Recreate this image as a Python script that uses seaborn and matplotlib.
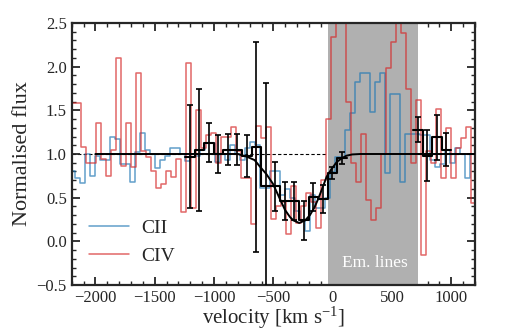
import numpy as np
import pandas as pd
import matplotlib
matplotlib.use('Agg')
import matplotlib.pyplot as plt
from matplotlib.ticker import MultipleLocator
import seaborn as sns

sns.set_style('ticks')
plt.rcParams['font.family'] = 'serif'
plt.rcParams['font.serif'] = ['Liberation Serif', 'DejaVu Serif']
plt.rcParams['mathtext.fontset'] = 'custom'
plt.rcParams['mathtext.rm'] = 'Liberation Serif'
plt.rcParams['mathtext.it'] = 'Liberation Serif:italic'

# pixel size of the spectrum (km/s) and first pixel edge of each ion
dv = 42.16
civ_start = -2209.0
cii_start = -2218.0

# normalised flux per pixel
civ_flux = [1.58, 1.58, 1.08, 0.90, 0.90, 1.36, 0.94, 0.75, 1.05, 2.10,
            0.86, 1.36, 0.85, 1.93, 1.04, 0.97, 0.80, 0.61, 0.66, 0.80,
            0.74, 0.94, 0.34, 2.04, 0.38, 1.50, 1.07, 1.22, 1.24, 0.90,
            1.20, 1.20, 1.31, 1.03, 0.72, 0.72, 0.20, 1.32, 1.18, 1.31,
            0.25, 0.40, 0.45, 0.08, 0.63, 0.21, 0.40, 0.55, 0.45, 0.15,
            0.70, 1.40, 2.34, 3.00, 3.00, 1.60, 0.90, 0.68, 1.23, 0.47,
            0.24, 0.38, 1.00, 1.98, 2.28, 3.00, 2.39, 1.75, 0.90, 1.62,
            -0.16, 1.04, 0.90, 1.51, 0.72, 1.30, 0.72, 1.07, 1.18, 1.31,
            0.44, 0.90]
cii_flux = [0.80, 0.72, 0.67, 1.00, 0.75, 0.98, 0.93, 0.93, 1.19, 1.17,
            0.89, 0.89, 0.68, 1.02, 1.24, 1.05, 1.00, 0.84, 0.93, 0.98,
            1.07, 1.07, 1.00, 0.92, 1.00, 0.98, 1.05, 1.13, 1.13, 0.91,
            1.00, 0.93, 1.10, 1.00, 0.93, 1.07, 1.14, 1.10, 0.61, 0.61,
            0.81, 0.81, 0.53, 0.60, 0.50, 0.35, 0.24, 0.12, 0.53, 0.38,
            0.38, 0.50, 0.79, 0.97, 0.97, 1.28, 1.47, 1.83, 1.93, 1.93,
            1.48, 1.82, 1.93, 0.78, 1.69, 1.69, 0.68, 1.23, 1.23, 1.23,
            1.22, 1.22, 0.93, 0.85, 0.88, 1.05, 0.90, 1.07, 1.00, 0.72,
            1.00, 1.10]

# combined, rebinned spectrum (emission-line region masked)
bin_v1 = [-1203, -1123, -1043, -963, -883, -803, -723, -643, -563,
          -483, -403, -322, -242, -162, -82, -2, 78]
bin_f1 = [0.97, 1.05, 1.13, 1.00, 1.05, 1.05, 0.98, 1.08, 0.63,
          0.63, 0.46, 0.46, 0.24, 0.51, 0.48, 0.78, 0.95]
bin_e1 = [0.59, 0.70, 0.22, 0.22, 0.18, 0.18, 0.24, 1.20, 1.18,
          0.28, 0.22, 0.22, 0.22, 0.16, 0.16, 0.07, 0.07]
bin_v2 = [719, 799, 879, 959]
bin_f2 = [1.28, 0.98, 1.19, 1.05]
bin_e2 = [0.14, 0.29, 0.26, 0.19]
half_bin = 40

# best-fit absorption profile, sampled from the figure
model_v = [-2000, -800, -725, -658, -613, -559, -504, -487, -450, -402,
           -361, -332, -282, -232, -192, -153, -121, -84, -51, -14,
           5, 35, 76, 115, 164, 233, 1200]
model_f = [1.0, 1.0, 0.97, 0.93, 0.855, 0.77, 0.66, 0.61, 0.50, 0.36,
           0.28, 0.24, 0.21, 0.24, 0.30, 0.39, 0.49, 0.62, 0.74, 0.82,
           0.855, 0.91, 0.95, 0.98, 0.995, 1.0, 1.0]

em_lo, em_hi = -40, 720

civ_v = civ_start + dv * (np.arange(len(civ_flux)) + 0.5)
cii_v = cii_start + dv * (np.arange(len(cii_flux)) + 0.5)

fig = plt.figure(figsize=(5.07, 3.32), dpi=100)
ax = fig.add_axes([0.1414, 0.1416, 0.7956, 0.7891])

ax.axhline(1.0, color='k', lw=0.8, ls=(0, (3, 2)), zorder=0.5)
ax.axvspan(em_lo, em_hi, color='#b0b0b0', lw=0, zorder=1)

sns.lineplot(x=cii_v, y=cii_flux, drawstyle='steps-mid', color='tab:blue',
             alpha=0.7, lw=1.1, estimator=None, sort=False, ax=ax,
             label='CII', zorder=2)
sns.lineplot(x=civ_v, y=civ_flux, drawstyle='steps-mid', color='tab:red',
             alpha=0.7, lw=1.1, estimator=None, sort=False, ax=ax,
             label='CIV', zorder=2)

for bv, bf, be in [(bin_v1, bin_f1, bin_e1), (bin_v2, bin_f2, bin_e2)]:
    edges = [v - half_bin for v in bv] + [bv[-1] + half_bin]
    sns.lineplot(x=edges, y=bf + [bf[-1]], drawstyle='steps-post',
                 color='k', lw=1.5, estimator=None, sort=False, ax=ax,
                 zorder=3)
    ax.errorbar(bv, bf, yerr=be, fmt='none', ecolor='k', elinewidth=1.2,
                capsize=2.2, capthick=1.2, zorder=3)

sns.lineplot(x=model_v, y=model_f, color='k', lw=1.4, estimator=None,
             sort=False, ax=ax, zorder=4)

ax.text((em_lo + em_hi) / 2 + 15, -0.25, 'Em. lines', color='white',
        fontsize=12.5, ha='center', va='center', zorder=5)

ax.set_xlim(-2200, 1200)
ax.set_ylim(-0.5, 2.5)
ax.xaxis.set_major_locator(MultipleLocator(500))
ax.xaxis.set_minor_locator(MultipleLocator(100))
ax.yaxis.set_major_locator(MultipleLocator(0.5))
ax.yaxis.set_minor_locator(MultipleLocator(0.1))
ax.tick_params(which='both', direction='in', top=True, right=True,
               labelsize=12)
ax.tick_params(which='major', length=6, width=1.3)
ax.tick_params(which='minor', length=3, width=1.0)
for s in ax.spines.values():
    s.set_linewidth(1.6)

ax.set_xlabel('velocity [km s$^{-1}$]', fontsize=15, labelpad=-1)
ax.set_ylabel('Normalised flux', fontsize=16, labelpad=3)

handles, labels = ax.get_legend_handles_labels()
ax.legend(handles[:2], labels[:2], loc='lower left', frameon=False,
          fontsize=14, handlelength=2.05, handletextpad=0.65,
          labelspacing=0.55, bbox_to_anchor=(0.0, 0.01))

fig.savefig('out.png', dpi=100)
